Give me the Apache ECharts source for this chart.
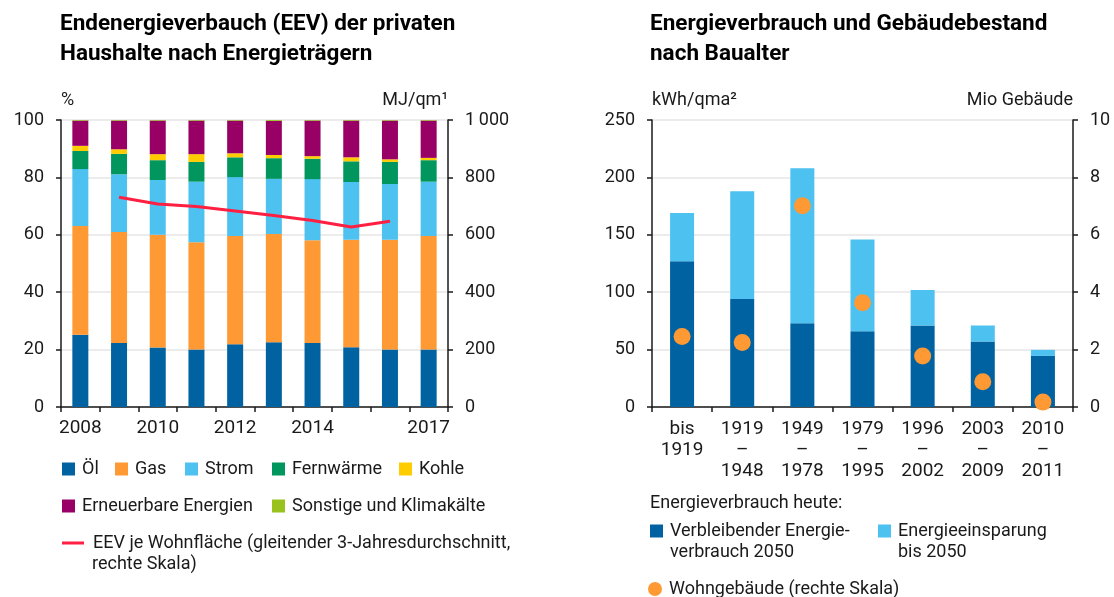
<!DOCTYPE html>
<html>
<head>
<meta charset="utf-8">
<script src="https://cdn.jsdelivr.net/npm/echarts@6/dist/echarts.min.js"></script>
<style>
  html, body { margin: 0; padding: 0; background: #fff; }
  #chart { width: 1114px; height: 597px; }
</style>
</head>
<body>
<div id="chart"></div>
<script>
// --- linke Grafik: Anteile am EEV (%) ---
const years = ['2008', '2009', '2010', '2011', '2012', '2013', '2014', '2015', '2016', '2017'];
const shownYears = ['2008', '2010', '2012', '2014', '2017'];
const oel       = [25.2, 22.3, 20.7, 20.0, 21.9, 22.6, 22.3, 20.8, 20.0, 20.0];
const gas       = [37.9, 38.7, 39.3, 37.4, 37.7, 37.7, 35.8, 37.5, 38.3, 39.6];
const strom     = [19.8, 20.1, 19.1, 21.1, 20.5, 19.2, 21.3, 20.1, 19.4, 18.9];
const fernwaerme = [6.3, 7.1, 6.9, 6.9, 6.9, 7.2, 7.1, 7.2, 7.7, 7.5];
const kohle     = [1.8, 1.6, 2.1, 2.7, 1.4, 1.1, 0.9, 1.4, 0.9, 0.8];
const erneuerbar = [8.8, 10.0, 11.7, 11.7, 11.4, 11.9, 12.4, 12.8, 13.5, 13.0];
const sonstige  = [0.2, 0.2, 0.2, 0.2, 0.2, 0.3, 0.2, 0.2, 0.2, 0.2];
// MJ/qm, gleitender 3-Jahresdurchschnitt
const eevJeFlaeche = [null, 731, 707, 699, 683, 667, 650, 627, 647, null];

// --- rechte Grafik: nach Baualter ---
const baualter = ['bis\n1919', '1919\n–\n1948', '1949\n–\n1978', '1979\n–\n1995', '1996\n–\n2002', '2003\n–\n2009', '2010\n–\n2011'];
const verbleibend = [127, 94, 73, 66, 71, 57, 44.5];
const einsparung  = [42, 94, 135, 80, 31, 14, 5.3];
const wohngebaeude = [2.46, 2.25, 7.01, 3.63, 1.78, 0.88, 0.17];

const FONT = 'Roboto';
const C = {
  oel: '#0062a1', gas: '#ff9933', strom: '#4dc1f0', fern: '#00965e',
  kohle: '#ffcc00', ern: '#990066', sonst: '#99c21f', line: '#ff1f40'
};

const chart = echarts.init(document.getElementById('chart'));

const txt = { fontFamily: FONT, fontSize: 18, color: '#1a1a1a' };
const splitLine = { show: true, lineStyle: { color: '#ececec', width: 2 } };
const axisLine = { show: true, lineStyle: { color: '#1a1a1a', width: 1.5 } };
const axisTick = { show: true, length: 5, lineStyle: { color: '#1a1a1a', width: 1.5 } };

function leg(name, left, y, icon, w, h) {
  return {
    data: [name], left: left, top: y - 10, padding: 0,
    icon: icon, itemWidth: w || 13, itemHeight: h || 13,
    textStyle: { fontFamily: FONT, fontSize: 18, color: '#1a1a1a', lineHeight: 20, padding: [0, 0, 0, 2] },
    formatter: n => n.split('|')[0],
    selectedMode: false
  };
}

function bar(name, data, color) {
  return {
    name: name, type: 'bar', stack: 'eev', data: data, barWidth: 16,
    xAxisIndex: 0, yAxisIndex: 0, itemStyle: { color: color }
  };
}

function title(t, left) {
  return {
    type: 'text', left: left, top: 9,
    style: { text: t, fontFamily: FONT, fontSize: 22.5, fontWeight: 'bold', lineHeight: 30, fill: '#000' }
  };
}

function note(t, left, y) {
  return {
    type: 'text', left: left, top: y - 10,
    style: { text: t, fontFamily: FONT, fontSize: 18, lineHeight: 20, fill: '#1a1a1a' }
  };
}

const lineName = 'EEV je Wohnfläche (gleitender 3-Jahresdurchschnitt,|rechte Skala)';
const restName = 'Verbleibender Energie-|verbrauch 2050';
const sparName = 'Energieeinsparung|bis 2050';

chart.setOption({
  animation: false,
  grid: [
    { left: 61, right: 666, top: 120, bottom: 190 },
    { left: 652, right: 41, top: 120, bottom: 190 }
  ],
  xAxis: [
    {
      type: 'category', gridIndex: 0, data: years,
      axisLine: axisLine, axisTick: { ...axisTick, interval: 0 },
      axisLabel: { ...txt, fontSize: 19, interval: 0, margin: 12, formatter: v => shownYears.includes(v) ? v : '' }
    },
    {
      type: 'category', gridIndex: 1, data: baualter,
      axisLine: axisLine, axisTick: { ...axisTick, interval: 0 },
      axisLabel: { ...txt, fontSize: 19, interval: 0, margin: 12, lineHeight: 21, verticalAlign: 'top' }
    }
  ],
  yAxis: [
    {
      type: 'value', gridIndex: 0, min: 0, max: 100, interval: 20,
      name: '%', nameGap: 11, nameTextStyle: { ...txt, align: 'left' },
      axisLine: axisLine, axisTick: axisTick, splitLine: splitLine,
      axisLabel: { ...txt, margin: 17 }
    },
    {
      type: 'value', gridIndex: 0, min: 0, max: 1000, interval: 200, position: 'right',
      name: 'MJ/qm¹', nameGap: 11, nameTextStyle: { ...txt, align: 'right' },
      axisLine: axisLine, axisTick: axisTick, splitLine: { show: false },
      axisLabel: { ...txt, margin: 17, formatter: v => v === 1000 ? '1\u2009000' : String(v) }
    },
    {
      type: 'value', gridIndex: 1, min: 0, max: 250, interval: 50,
      name: 'kWh/qma²', nameGap: 11, nameTextStyle: { ...txt, align: 'left' },
      axisLine: axisLine, axisTick: axisTick, splitLine: splitLine,
      axisLabel: { ...txt, margin: 17 }
    },
    {
      type: 'value', gridIndex: 1, min: 0, max: 10, interval: 2, position: 'right',
      name: 'Mio Gebäude', nameGap: 11, nameTextStyle: { ...txt, align: 'right' },
      axisLine: axisLine, axisTick: axisTick, splitLine: { show: false },
      axisLabel: { ...txt, margin: 17 }
    }
  ],
  legend: [
    leg('Öl', 62, 469, 'rect'),
    leg('Gas', 115, 469, 'rect'),
    leg('Strom', 185, 469, 'rect'),
    leg('Fernwärme', 272, 469, 'rect'),
    leg('Kohle', 399, 469, 'rect'),
    leg('Erneuerbare Energien', 62, 506, 'rect'),
    leg('Sonstige und Klimakälte', 272, 506, 'rect'),
    { ...leg(lineName, 62, 543, 'rect', 22, 3), textStyle: { fontFamily: FONT, fontSize: 18, color: '#1a1a1a', lineHeight: 20, padding: [0, 0, 0, 4] } },
    leg(restName, 650, 531, 'rect'),
    leg(sparName, 878, 531, 'rect'),
    leg('Wohngebäude (rechte Skala)', 648, 589, 'circle', 14, 14)
  ],
  graphic: [
    title('Endenergieverbauch (EEV) der privaten\nHaushalte nach Energieträgern', 60),
    title('Energieverbrauch und Gebäudebestand\nnach Baualter', 650),
    note(lineName.split('|')[1], 92, 564),
    note('Energieverbrauch heute:', 650, 503),
    note(restName.split('|')[1], 670, 552),
    note(sparName.split('|')[1], 898, 552)
  ],
  series: [
    bar('Öl', oel, C.oel),
    bar('Gas', gas, C.gas),
    bar('Strom', strom, C.strom),
    bar('Fernwärme', fernwaerme, C.fern),
    bar('Kohle', kohle, C.kohle),
    bar('Erneuerbare Energien', erneuerbar, C.ern),
    bar('Sonstige und Klimakälte', sonstige, C.sonst),
    {
      name: lineName, type: 'line', data: eevJeFlaeche, xAxisIndex: 0, yAxisIndex: 1,
      showSymbol: false, symbol: 'none', z: 5,
      lineStyle: { color: C.line, width: 3 }, itemStyle: { color: C.line }
    },
    {
      name: restName, type: 'bar', stack: 'bau', data: verbleibend, barWidth: 24,
      xAxisIndex: 1, yAxisIndex: 2, itemStyle: { color: C.oel }
    },
    {
      name: sparName, type: 'bar', stack: 'bau', data: einsparung, barWidth: 24,
      xAxisIndex: 1, yAxisIndex: 2, itemStyle: { color: C.strom }
    },
    {
      name: 'Wohngebäude (rechte Skala)', type: 'scatter', data: wohngebaeude, symbolSize: 17,
      xAxisIndex: 1, yAxisIndex: 3, z: 5, itemStyle: { color: C.gas, opacity: 1 }
    }
  ]
});
</script>
</body>
</html>
